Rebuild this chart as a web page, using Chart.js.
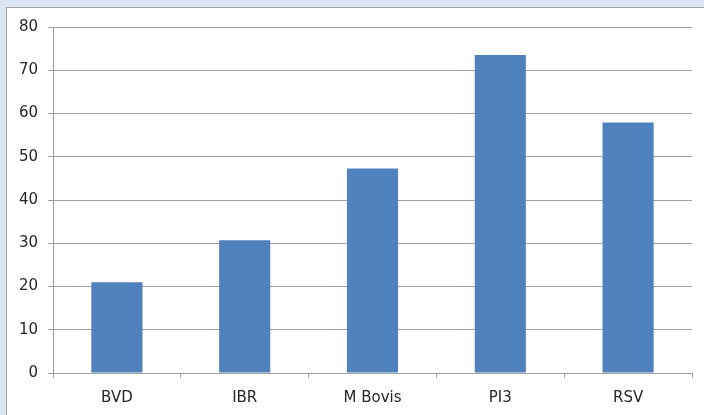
<!DOCTYPE html>
<html>
<head>
<meta charset="utf-8">
<script src="https://cdn.jsdelivr.net/npm/chart.js@4"></script>
<style>
    body { margin: 0; background: #dce6f2; width: 704px; height: 415px; overflow: hidden; }
    #frame {
        position: absolute; left: 6px; top: 7px; width: 720px; height: 430px;
        background: #ffffff; border-left: 1px solid #a5a5a5; border-top: 1px solid #a5a5a5;
    }
    #wrap { position: absolute; left: 0; top: 0; width: 697px; height: 407px; }
</style>
</head>
<body>
<div id="frame"><div id="wrap"><canvas id="chart"></canvas></div></div>
<script>
// Data
const categories = ["BVD", "IBR", "M Bovis", "PI3", "RSV"];
const values = [21, 30.7, 47.3, 73.5, 57.9];
const yTicks = [0, 10, 20, 30, 40, 50, 60, 70, 80];

const ctx = document.getElementById("chart").getContext("2d");
const gray = "#a0a0a0";
const labelFont = { size: 15, family: "'DejaVu Sans', Verdana, sans-serif" };

const chart = new Chart(ctx, {
    type: "bar",
    data: {
        labels: categories,
        datasets: [{
            data: values,
            backgroundColor: "#4f81bd",
            borderWidth: 0,
            categoryPercentage: 1,
            barPercentage: 0.4
        }]
    },
    options: {
        responsive: true,
        maintainAspectRatio: false,
        animation: false,
        layout: { padding: { left: 0, right: 12, top: 18, bottom: 0 } },
        plugins: { legend: { display: false }, tooltip: { enabled: false } },
        scales: {
            x: {
                offset: true,
                grid: { offset: true, drawOnChartArea: false, drawTicks: true, tickLength: 5, color: gray },
                border: { display: true, color: gray },
                ticks: { color: "#262626", padding: 11, font: labelFont },
                afterFit: function(scale) { scale.height = 42; }
            },
            y: {
                min: 0,
                max: 80,
                afterBuildTicks: function(scale) { scale.ticks = yTicks.map(v => ({ value: v })); },
                grid: { color: gray, tickLength: 5 },
                border: { display: true, color: gray },
                ticks: { color: "#262626", padding: 10, font: labelFont },
                afterFit: function(scale) { scale.width = 46; }
            }
        }
    }
});
</script>
</body>
</html>
